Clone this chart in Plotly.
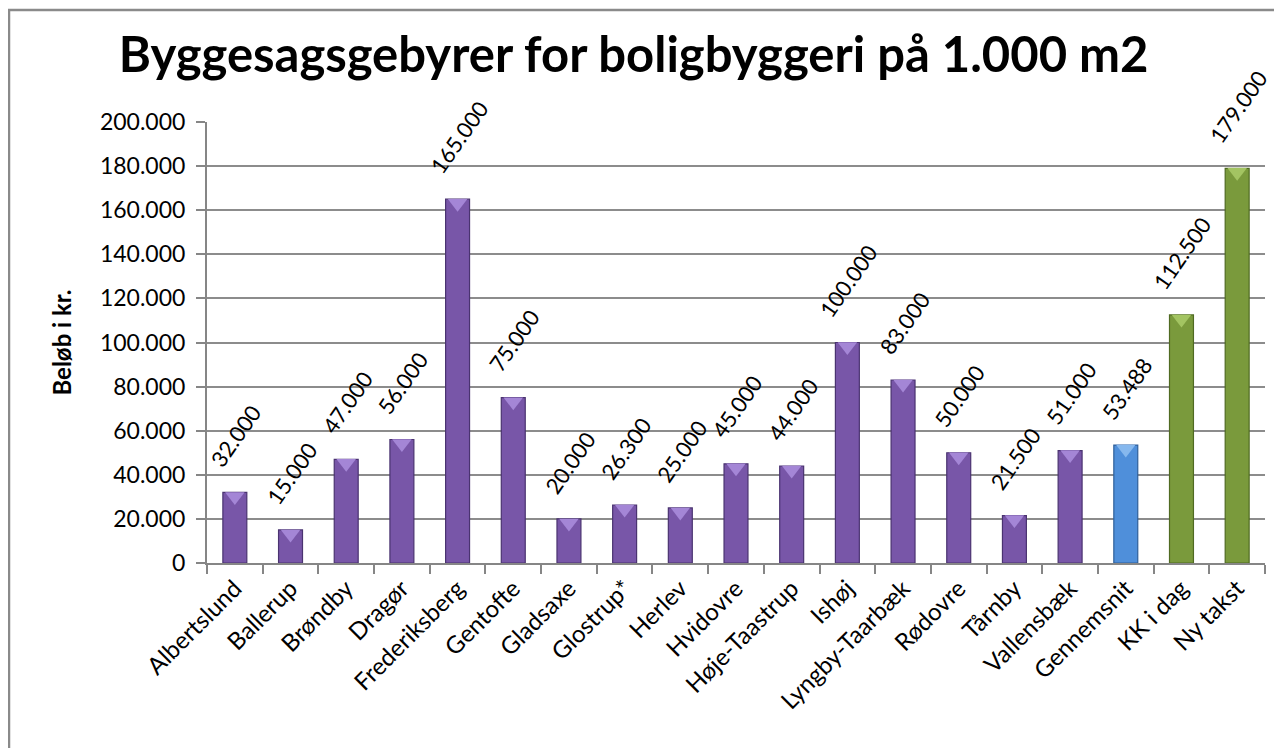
import plotly.graph_objects as go

categories = ["Albertslund", "Ballerup", "Brøndby", "Dragør", "Frederiksberg", "Gentofte",
              "Gladsaxe", "Glostrup*", "Herlev", "Hvidovre", "Høje-Taastrup", "Ishøj",
              "Lyngby-Taarbæk", "Rødovre", "Tårnby", "Vallensbæk", "Gennemsnit", "KK i dag", "Ny takst"]
values = [32000, 15000, 47000, 56000, 165000, 75000, 20000, 26300, 25000, 45000, 44000,
          100000, 83000, 50000, 21500, 51000, 53488, 112500, 179000]
groups = ["kommune"] * 16 + ["snit", "kk", "kk"]

color_map = {"kommune": "#7856A8", "snit": "#4F8FDA", "kk": "#7A9A3C"}
edge_map = {"kommune": "#4A3370", "snit": "#2F5F9A", "kk": "#4F6A22"}
bevel_map = {"kommune": "#A486D6", "snit": "#86B8EE", "kk": "#A3C462"}

tick_vals = list(range(0, 200001, 20000))
tick_text = ["0"] + [f"{v // 1000}.000" for v in tick_vals[1:]]

def fmt(v):
    return f"{v:,}".replace(",", ".")

FONT = "Lato, 'Open Sans', sans-serif"

fig = go.Figure()
fig.add_trace(go.Bar(
    x=categories,
    y=values,
    width=0.43,
    marker=dict(color=[color_map[g] for g in groups],
                line=dict(color=[edge_map[g] for g in groups], width=1.2)),
    cliponaxis=False,
    hoverinfo="x+y",
))
# lighter bevel triangle at the top of each bar
fig.add_trace(go.Scatter(
    x=categories, y=values, mode="markers",
    marker=dict(symbol="triangle-down", angle=0, standoff=4, size=17,
                color=[bevel_map[g] for g in groups], line=dict(width=0)),
    cliponaxis=False, hoverinfo="skip",
))

for c, v in zip(categories, values):
    fig.add_annotation(x=c, y=v, text=fmt(v), textangle=-55, showarrow=False,
                       xanchor="center", yanchor="bottom", yshift=18, xshift=1,
                       font=dict(family=FONT, size=22, color="#000000"))

# page has an 8px body margin, so the figure is sized/margined to compensate
fig.update_layout(
    width=1274, height=740,
    paper_bgcolor="white", plot_bgcolor="white",
    margin=dict(l=199, r=17, t=114, b=185, autoexpand=False),
    showlegend=False,
    title=dict(text="<b>Byggesagsgebyrer for boligbyggeri på 1.000 m2</b>",
               x=0.491, xanchor="center", y=0.937, yanchor="middle",
               font=dict(family=FONT, size=49, color="#000000")),
    font=dict(family=FONT, color="#000000"),
)
fig.update_xaxes(
    automargin=False, range=[-0.5, len(categories) - 0.5],
    showgrid=False, showline=True, linecolor="#868686", linewidth=2,
    ticks="outside", tickson="boundaries", ticklen=9, tickcolor="#868686", tickwidth=2,
    tickangle=-45, tickfont=dict(family=FONT, size=24, color="#000000"),
)
fig.update_yaxes(
    automargin=False,
    range=[0, 200000], tickvals=tick_vals, ticktext=tick_text,
    showgrid=True, gridcolor="#8C8C8C", gridwidth=2,
    showline=True, linecolor="#868686", linewidth=2,
    ticks="outside", ticklen=9, tickcolor="#868686", tickwidth=2,
    ticklabelstandoff=6,
    tickfont=dict(family=FONT, size=23, color="#000000"),
    title=dict(text="<b>Beløb i kr.</b>", font=dict(family=FONT, size=24, color="#000000"),
               standoff=22),
    zeroline=False,
)
# outer chart frame
fig.add_shape(type="rect", xref="paper", yref="paper",
              x0=-198 / 1058, x1=1.2, y0=-0.6, y1=1 + 112 / 441,
              line=dict(color="#8A8A8A", width=2.5), fillcolor="rgba(0,0,0,0)", layer="below")

fig.write_html("out.html")
